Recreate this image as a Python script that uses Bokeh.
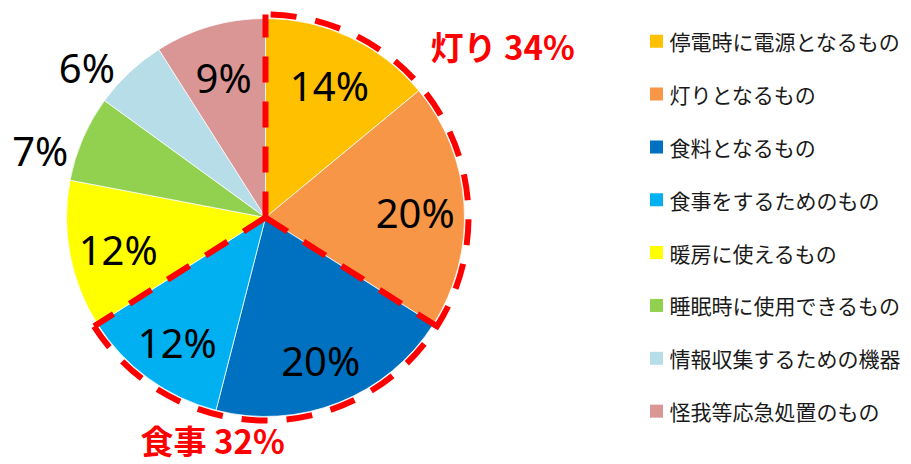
import numpy as np
from bokeh.plotting import figure
from bokeh.models import Range1d, ColumnDataSource
from bokeh.core.properties import value
from bokeh.embed import file_html
from bokeh.resources import INLINE

# ---- data ----
categories = ["停電時に電源となるもの", "灯りとなるもの", "食料となるもの", "食事をするためのもの",
              "暖房に使えるもの", "睡眠時に使用できるもの", "情報収集するための機器", "怪我等応急処置のもの"]
shares = [14, 20, 20, 12, 12, 7, 6, 9]
colors = ["#FFC000", "#F79646", "#0070C0", "#00B0F0", "#FFFF00", "#92D050", "#B7DEE8", "#D99694"]
outside_label = [False, False, False, False, False, True, True, False]
group_names = ["灯り", "食事"]
group_values = [34, 32]
group_slices = [(0, 2), (2, 4)]  # slice index ranges [start, end)

# ---- layout ----
W, H = 911, 464
cx, cy = 265, H - 217
R = 199
R_dash = 203
R_in = 150
R_out = 236

p = figure(width=W, height=H, x_range=Range1d(0, W), y_range=Range1d(0, H),
           output_backend="svg", toolbar_location=None, min_border=0)
p.axis.visible = False
p.grid.visible = False
p.outline_line_color = None
p.background_fill_color = "white"

vals = np.array(shares, dtype=float)
frac = vals / vals.sum()
cum = np.concatenate([[0], np.cumsum(frac)])
start_b = cum[:-1] * 2 * np.pi
end_b = cum[1:] * 2 * np.pi
mid_b = (start_b + end_b) / 2

src = ColumnDataSource(dict(
    start=np.pi / 2 - end_b,
    end=np.pi / 2 - start_b,
    color=colors,
))
p.wedge(x=cx, y=cy, radius=R, start_angle="start", end_angle="end",
        direction="anticlock", fill_color="color", line_color="white",
        line_width=0.75, source=src)

# percent labels
lx, ly = [], []
for b, out in zip(mid_b, outside_label):
    if out:
        bb = b - np.deg2rad(6)
        r = R_out
    else:
        bb = b
        r = R_in
    lx.append(cx + r * np.sin(bb))
    ly.append(cy + r * np.cos(bb) - 4)
p.text(x=lx, y=ly, text=[f"{v}%" for v in shares], text_align="center",
       text_baseline="middle", text_font=value("Noto Sans"),
       text_font_size="40px", text_color="#000000")

# dashed group outline
g_start = cum[group_slices[0][0]] * 2 * np.pi
g_end = cum[group_slices[-1][1]] * 2 * np.pi
p.arc(x=cx, y=cy, radius=R_dash, start_angle=np.pi / 2 - g_end,
      end_angle=np.pi / 2 - g_start, direction="anticlock",
      line_color="#FF0000", line_width=6, line_dash="26 19")
bounds = sorted(set([cum[a] for a, b in group_slices] + [cum[b] for a, b in group_slices]))
bx = [cx + R_dash * np.sin(c * 2 * np.pi) for c in bounds]
by = [cy + R_dash * np.cos(c * 2 * np.pi) for c in bounds]
p.segment(x0=[cx] * len(bounds), y0=[cy] * len(bounds), x1=bx, y1=by,
          line_color="#FF0000", line_width=6, line_dash="26 19")

# group labels
p.text(x=[430, 140], y=[H - 45, H - 439],
       text=[f"{n} {v}%" for n, v in zip(group_names, group_values)],
       text_align="left", text_baseline="middle",
       text_font=value("Noto Sans CJK JP"), text_font_style="bold",
       text_font_size="33px", text_color="#FF0000")

# legend
leg_y = [H - (40.7 + i * 52.85) for i in range(len(categories))]
p.rect(x=[656] * len(categories), y=leg_y, width=13, height=13,
       fill_color=colors, line_color=None)
p.text(x=[669] * len(categories), y=leg_y, text=categories, text_align="left",
       text_baseline="middle", text_font=value("Noto Sans CJK JP"),
       text_font_size="21px", text_color="#1a1a1a")

open("out.html", "w").write(file_html(p, INLINE))
